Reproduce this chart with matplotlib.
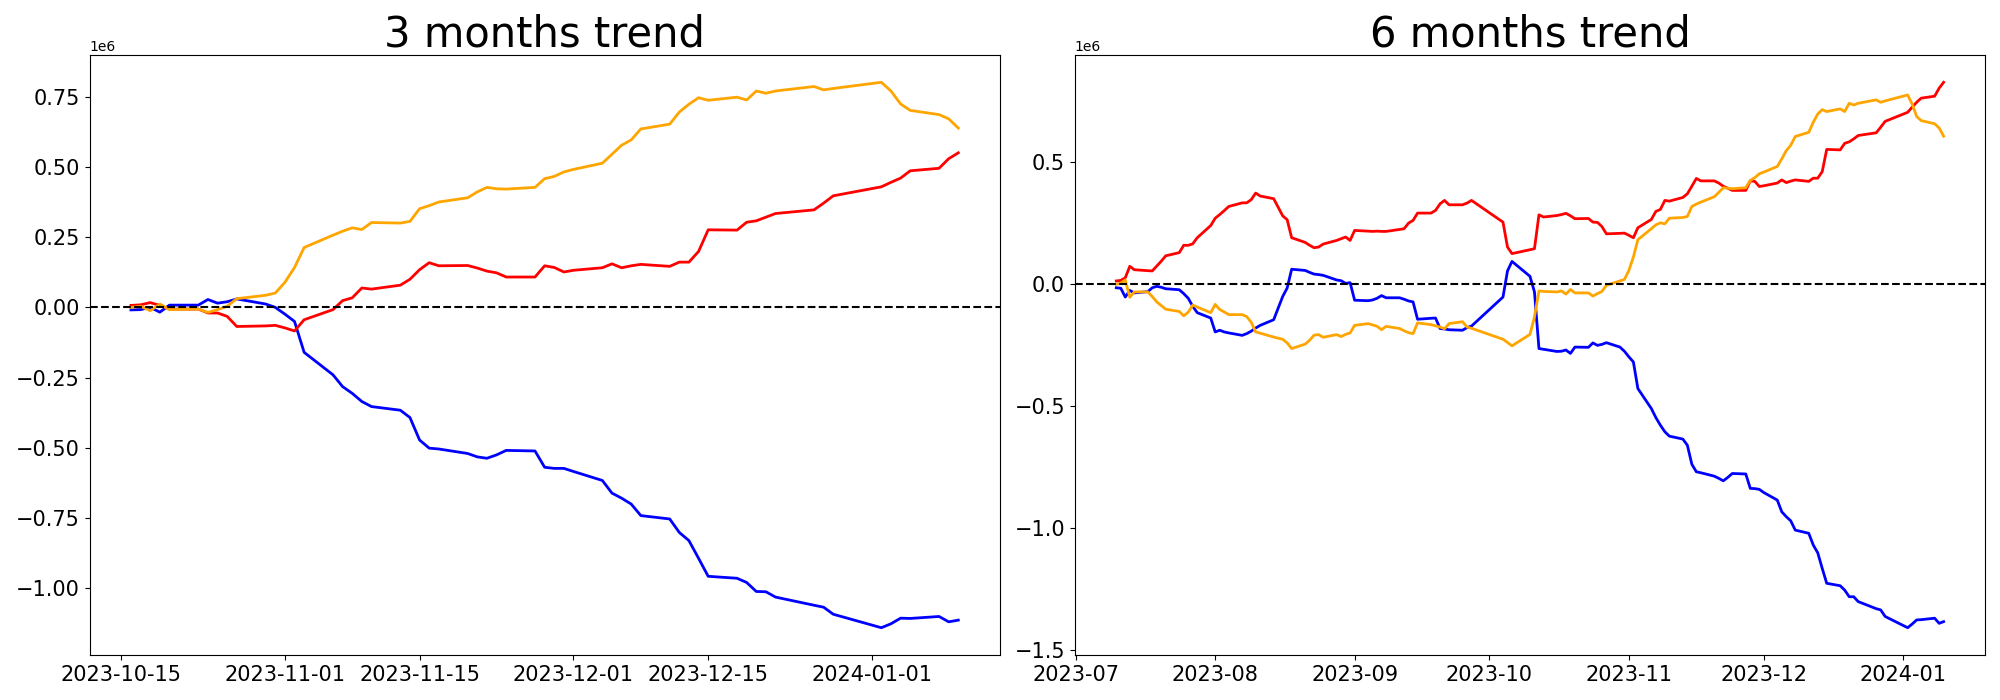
import matplotlib
matplotlib.use('Agg')
import matplotlib.pyplot as plt
import numpy as np
import pandas as pd

# market closed days (weekends are dropped by bdate_range)
holidays = ['2023-08-15', '2023-09-28', '2023-09-29', '2023-10-02', '2023-10-03',
            '2023-10-09', '2023-12-25', '2023-12-29', '2024-01-01']

dates_3m = pd.bdate_range('2023-10-16', '2024-01-10')
dates_3m = dates_3m[~dates_3m.isin(pd.to_datetime(holidays))]
dates_6m = pd.bdate_range('2023-07-10', '2024-01-10')
dates_6m = dates_6m[~dates_6m.isin(pd.to_datetime(holidays))]

# 3 months cumulative values
blue_3m = [-0.009, -0.008, 0.000, -0.017, 0.008,
           0.008, 0.028, 0.015, 0.020, 0.030,
           0.012, 0.000, -0.024, -0.050, -0.160,
           -0.240, -0.282, -0.306, -0.335, -0.353,
           -0.366, -0.392, -0.472, -0.501, -0.504,
           -0.520, -0.532, -0.537, -0.525, -0.509,
           -0.511, -0.569, -0.573, -0.573, -0.584,
           -0.616, -0.661, -0.679, -0.700, -0.741,
           -0.753, -0.801, -0.830, -0.893, -0.957,
           -0.964, -0.979, -1.011, -1.012, -1.031,
           -1.060, -1.067, -1.092,
           -1.140, -1.126, -1.106, -1.107,
           -1.100, -1.119, -1.113]
red_3m = [0.007, 0.009, 0.017, 0.007, -0.006,
          -0.006, -0.020, -0.020, -0.032, -0.068,
          -0.066, -0.064, -0.073, -0.084, -0.044,
          -0.008, 0.024, 0.034, 0.069, 0.065,
          0.079, 0.100, 0.134, 0.159, 0.148,
          0.149, 0.140, 0.129, 0.123, 0.108,
          0.108, 0.148, 0.142, 0.126, 0.132,
          0.141, 0.155, 0.141, 0.148, 0.153,
          0.146, 0.161, 0.161, 0.199, 0.276,
          0.275, 0.303, 0.308, 0.321, 0.334,
          0.347, 0.371, 0.397,
          0.429, 0.445, 0.460, 0.486,
          0.495, 0.529, 0.550]
orange_3m = [0.000, 0.004, -0.012, 0.012, -0.008,
             -0.006, -0.018, -0.008, 0.004, 0.031,
             0.043, 0.051, 0.089, 0.142, 0.213,
             0.257, 0.271, 0.283, 0.277, 0.302,
             0.300, 0.306, 0.351, 0.362, 0.375,
             0.390, 0.411, 0.427, 0.422, 0.421,
             0.427, 0.458, 0.466, 0.482, 0.491,
             0.513, 0.545, 0.577, 0.596, 0.635,
             0.652, 0.695, 0.723, 0.746, 0.737,
             0.748, 0.738, 0.770, 0.762, 0.770,
             0.786, 0.774, 0.779,
             0.801, 0.770, 0.724, 0.701,
             0.686, 0.671, 0.638]

# 6 months cumulative values
blue_6m = [-0.014, -0.016, -0.052, -0.025, -0.035,
           -0.030, -0.014, -0.008, -0.012, -0.018,
           -0.022, -0.038, -0.057, -0.090, -0.116,
           -0.138, -0.195, -0.188, -0.195, -0.199,
           -0.209, -0.202, -0.192, -0.179, -0.168,
           -0.145, -0.050, -0.015, 0.062,
           0.057, 0.049, 0.042, 0.040, 0.037,
           0.018, 0.015, 0.004, 0.007, -0.065,
           -0.067, -0.064, -0.057, -0.046, -0.055,
           -0.055, -0.061, -0.068, -0.072, -0.143,
           -0.139, -0.138, -0.181, -0.183, -0.186,
           -0.188, -0.177, -0.171,
           -0.052, 0.055, 0.094,
           0.033, -0.031, -0.263, -0.266,
           -0.275, -0.274, -0.269, -0.283, -0.257,
           -0.258, -0.240, -0.250, -0.246, -0.239,
           -0.257, -0.274, -0.297, -0.318, -0.427,
           -0.509, -0.546, -0.577, -0.604, -0.622,
           -0.634, -0.659, -0.737, -0.768, -0.772,
           -0.786, -0.795, -0.805, -0.791, -0.775,
           -0.777, -0.836, -0.837, -0.840, -0.853,
           -0.884, -0.932, -0.952, -0.969, -1.007,
           -1.020, -1.068, -1.100, -1.164, -1.225,
           -1.235, -1.253, -1.280, -1.280, -1.300,
           -1.329, -1.334, -1.361,
           -1.407, -1.392, -1.375, -1.374,
           -1.368, -1.389, -1.382]
red_6m = [0.014, 0.016, 0.027, 0.074, 0.060,
          0.056, 0.055, 0.075, 0.095, 0.117,
          0.130, 0.160, 0.160, 0.166, 0.191,
          0.241, 0.271, 0.286, 0.302, 0.319,
          0.334, 0.334, 0.347, 0.374, 0.362,
          0.351, 0.281, 0.265, 0.191,
          0.172, 0.160, 0.150, 0.153, 0.165,
          0.180, 0.187, 0.194, 0.180, 0.221,
          0.218, 0.217, 0.218, 0.217, 0.217,
          0.225, 0.228, 0.251, 0.262, 0.292,
          0.292, 0.303, 0.330, 0.344, 0.326,
          0.326, 0.333, 0.344,
          0.255, 0.153, 0.126,
          0.142, 0.146, 0.285, 0.276,
          0.282, 0.286, 0.291, 0.281, 0.269,
          0.270, 0.255, 0.254, 0.237, 0.207,
          0.209, 0.210, 0.201, 0.191, 0.232,
          0.266, 0.299, 0.307, 0.344, 0.341,
          0.356, 0.371, 0.402, 0.434, 0.424,
          0.424, 0.415, 0.402, 0.394, 0.385,
          0.385, 0.424, 0.422, 0.401, 0.404,
          0.415, 0.428, 0.417, 0.423, 0.428,
          0.422, 0.435, 0.435, 0.462, 0.553,
          0.551, 0.578, 0.584, 0.596, 0.610,
          0.621, 0.644, 0.668,
          0.705, 0.726, 0.746, 0.763,
          0.771, 0.804, 0.828]
orange_6m = [0.000, 0.005, 0.018, -0.053, -0.031,
             -0.031, -0.050, -0.072, -0.087, -0.102,
             -0.111, -0.129, -0.114, -0.085, -0.093,
             -0.116, -0.082, -0.103, -0.113, -0.124,
             -0.124, -0.132, -0.155, -0.195, -0.200,
             -0.216, -0.225, -0.240, -0.263,
             -0.245, -0.229, -0.208, -0.206, -0.217,
             -0.206, -0.214, -0.205, -0.199, -0.168,
             -0.161, -0.166, -0.172, -0.186, -0.172,
             -0.181, -0.190, -0.198, -0.202, -0.158,
             -0.165, -0.170, -0.175, -0.182, -0.161,
             -0.153, -0.175, -0.180,
             -0.225, -0.238, -0.252,
             -0.205, -0.134, -0.027, -0.029,
             -0.031, -0.027, -0.040, -0.021, -0.035,
             -0.035, -0.048, -0.038, -0.029, -0.004,
             0.014, 0.020, 0.057, 0.112, 0.183,
             0.228, 0.244, 0.252, 0.248, 0.271,
             0.274, 0.278, 0.319, 0.329, 0.337,
             0.359, 0.377, 0.396, 0.394, 0.392,
             0.396, 0.426, 0.437, 0.453, 0.460,
             0.483, 0.514, 0.548, 0.570, 0.606,
             0.623, 0.664, 0.698, 0.716, 0.708,
             0.719, 0.708, 0.742, 0.735, 0.742,
             0.756, 0.746, 0.752,
             0.776, 0.739, 0.688, 0.671,
             0.658, 0.641, 0.607]

scale = 1e6

fig, (ax1, ax2) = plt.subplots(1, 2, figsize=(20, 7))

panels = [(ax1, dates_3m, blue_3m, red_3m, orange_3m, '3 months trend'),
          (ax2, dates_6m, blue_6m, red_6m, orange_6m, '6 months trend')]

for ax, dates, blue, red, orange, title in panels:
    ax.plot(dates, np.array(blue) * scale, color='blue', linewidth=2)
    ax.plot(dates, np.array(red) * scale, color='red', linewidth=2)
    ax.plot(dates, np.array(orange) * scale, color='orange', linewidth=2)
    ax.axhline(0, color='black', linestyle='--', linewidth=1.5)
    ax.set_title(title, fontsize=30)
    ax.tick_params(labelsize=15)

plt.subplots_adjust(left=0.0448, right=0.9925, bottom=0.0643, top=0.9214, wspace=0.0827)
plt.savefig('out.png', dpi=100)
